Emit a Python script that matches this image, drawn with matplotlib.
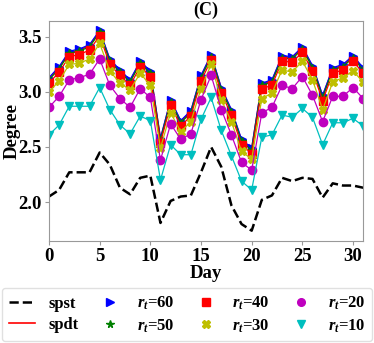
import matplotlib
matplotlib.use('Agg')
import matplotlib.pyplot as plt
from matplotlib.lines import Line2D
import numpy as np

days = np.arange(32)

spst = [2.05, 2.11, 2.27, 2.27, 2.27, 2.45, 2.34, 2.13, 2.07, 2.22, 2.24, 1.81, 2.01, 2.05, 2.06, 2.27,
        2.50, 2.32, 1.97, 1.80, 1.74, 2.02, 2.06, 2.22, 2.19, 2.22, 2.21, 2.04, 2.17, 2.15, 2.15, 2.13]
spdt = [3.12, 3.22, 3.36, 3.38, 3.42, 3.55, 3.29, 3.19, 3.10, 3.27, 3.18, 2.57, 2.92, 2.73, 2.82, 3.14,
        3.33, 3.03, 2.83, 2.56, 2.48, 3.07, 3.10, 3.32, 3.31, 3.40, 3.23, 2.96, 3.21, 3.24, 3.32, 3.21]
r60 = [3.13, 3.23, 3.37, 3.39, 3.43, 3.56, 3.30, 3.20, 3.11, 3.28, 3.19, 2.58, 2.93, 2.74, 2.83, 3.15,
       3.34, 3.04, 2.84, 2.57, 2.49, 3.08, 3.11, 3.33, 3.32, 3.41, 3.24, 2.97, 3.22, 3.25, 3.33, 3.22]
r50 = [3.11, 3.21, 3.35, 3.37, 3.41, 3.54, 3.28, 3.18, 3.09, 3.26, 3.17, 2.56, 2.91, 2.72, 2.81, 3.13,
       3.32, 3.02, 2.82, 2.55, 2.47, 3.06, 3.09, 3.31, 3.30, 3.39, 3.22, 2.95, 3.20, 3.23, 3.31, 3.20]
r40 = [3.08, 3.18, 3.32, 3.34, 3.38, 3.51, 3.25, 3.15, 3.06, 3.23, 3.14, 2.54, 2.88, 2.69, 2.78, 3.10,
       3.29, 2.99, 2.79, 2.52, 2.44, 3.03, 3.06, 3.28, 3.27, 3.36, 3.19, 2.92, 3.17, 3.20, 3.28, 3.17]
r30 = [3.00, 3.10, 3.25, 3.26, 3.30, 3.44, 3.19, 3.08, 3.02, 3.17, 3.06, 2.49, 2.81, 2.64, 2.73, 3.03,
       3.25, 2.93, 2.73, 2.46, 2.39, 2.94, 2.99, 3.20, 3.18, 3.28, 3.11, 2.84, 3.09, 3.13, 3.19, 3.09]
r20 = [2.86, 2.96, 3.11, 3.13, 3.16, 3.30, 3.06, 2.94, 2.86, 3.03, 2.95, 2.38, 2.71, 2.57, 2.62, 2.93,
       3.15, 2.84, 2.61, 2.36, 2.29, 2.81, 2.86, 3.06, 3.03, 3.14, 2.97, 2.73, 2.96, 2.96, 3.04, 2.94]
r10 = [2.61, 2.70, 2.87, 2.87, 2.87, 3.04, 2.84, 2.70, 2.62, 2.78, 2.74, 2.20, 2.52, 2.43, 2.43, 2.75,
       2.95, 2.65, 2.42, 2.19, 2.11, 2.59, 2.61, 2.79, 2.77, 2.85, 2.77, 2.52, 2.72, 2.72, 2.76, 2.69]

series = [(r60, 'b', '>', '$r_t$=60'),
          (r50, 'g', '*', '$r_t$=50'),
          (r40, 'r', 's', '$r_t$=40'),
          (r30, 'y', 'X', '$r_t$=30'),
          (r20, 'm', 'o', '$r_t$=20'),
          (r10, 'c', 'v', '$r_t$=10')]

plt.rcParams['font.family'] = ['Liberation Serif', 'DejaVu Serif']
plt.rcParams['font.weight'] = 'bold'
plt.rcParams['axes.labelweight'] = 'bold'
plt.rcParams['axes.titleweight'] = 'bold'
plt.rcParams['mathtext.fontset'] = 'custom'
plt.rcParams['mathtext.it'] = 'Liberation Serif:italic:bold'
plt.rcParams['mathtext.rm'] = 'Liberation Serif:bold'

colors = {'b': (0, 0, 1), 'g': (0, 0.5, 0), 'r': (1, 0, 0), 'y': (0.75, 0.75, 0),
          'm': (0.75, 0, 0.75), 'c': (0, 0.75, 0.75)}

fig = plt.figure(figsize=(3.74, 3.43), dpi=100)
ax = fig.add_axes([0.131, 0.297, 0.84, 0.642])

ax.plot(days, spst, 'k--', lw=1.8)
ax.plot(days, spdt, 'r-', lw=1.2)
for vals, c, m, lab in series:
    ax.plot(days, vals, color=colors[c], marker=m, ms=6, lw=0.9)

ax.set_xlim(0, 31)
ax.set_ylim(1.645, 3.645)
ax.set_xticks([0, 5, 10, 15, 20, 25, 30])
ax.set_yticks([2.0, 2.5, 3.0, 3.5])
ax.tick_params(labelsize=13.5, length=3, color='0.6', pad=2)
for s in ax.spines.values():
    s.set_color('0.6')
ax.set_xlabel('Day', fontsize=13.5, labelpad=0)
ax.set_ylabel('Degree', fontsize=13.5)
ax.yaxis.set_label_coords(-0.09, 0.5)
ax.set_title('(C)', fontsize=13, pad=4)

handles = [Line2D([], [], color='k', ls='--', lw=1.8),
           Line2D([], [], color='r', ls='-', lw=1.2)]
labels = ['spst', 'spdt']
for vals, c, m, lab in series:
    handles.append(Line2D([], [], color=colors[c], marker=m, ls='None', ms=5.5))
    labels.append(lab)
fig.legend(handles, labels, loc='lower left', bbox_to_anchor=(0.005, 0.005, 0.99, 0.16),
           mode='expand', ncol=4, fontsize=12, handlelength=1.6, handletextpad=0.8,
           borderaxespad=0, labelspacing=0.3, edgecolor='0.85')

fig.savefig('out.png', dpi=100)
